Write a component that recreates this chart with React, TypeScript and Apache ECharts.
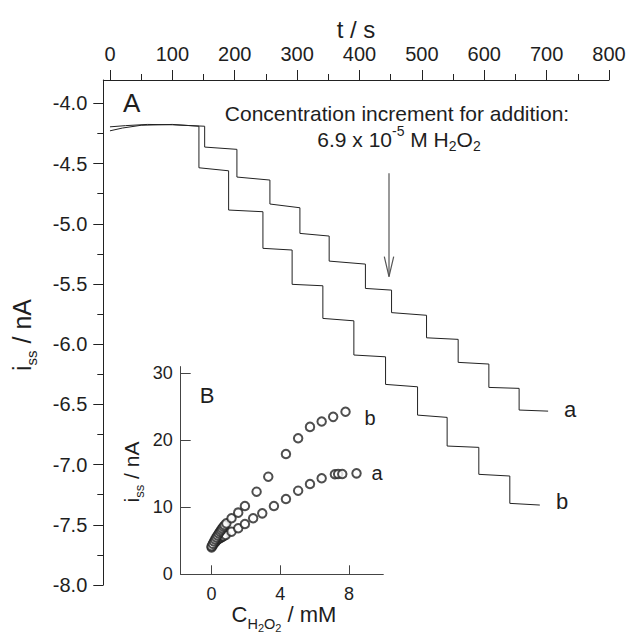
import React, { useEffect, useRef } from "react";
import * as echarts from "echarts";

const FONT = "'Liberation Sans', Arial, Helvetica, sans-serif";
const INK = "#1e1e1e";

// ---- axis ticks ----
const TIME_TICKS = [0, 100, 200, 300, 400, 500, 600, 700, 800];
const TIME_MINOR_TICKS = [50, 150, 250, 350, 450, 550, 650, 750];
const CURRENT_TICKS = [-8.0, -7.5, -7.0, -6.5, -6.0, -5.5, -5.0, -4.5, -4.0];
const CURRENT_MINOR_TICKS = [-7.75, -7.25, -6.75, -6.25, -5.75, -5.25, -4.75, -4.25];
const CONC_TICKS = [0, 4, 8];
const ISS_TICKS = [0, 10, 20, 30];

// ---- trace a (upper staircase) ----
const A_BASE_T = [0, 25, 60, 100, 151.8];
const A_BASE_V = [-4.195, -4.185, -4.175, -4.178, -4.19];
const A_STEP_T = [151.8, 203.5, 256.4, 304.5, 351.4, 409.5, 451.4, 507.5, 558.2, 607.4, 655.9, 702.4];
const A_LEVEL_START = [-4.363, -4.612, -4.836, -5.08, -5.31, -5.537, -5.738, -5.947, -6.151, -6.359, -6.547];
const A_LEVEL_END = [-4.382, -4.637, -4.867, -5.102, -5.335, -5.551, -5.76, -5.96, -6.165, -6.367, -6.556];

// ---- trace b (lower staircase) ----
const B_BASE_T = [0, 20, 50, 100, 142.6];
const B_BASE_V = [-4.228, -4.205, -4.182, -4.175, -4.19];
const B_STEP_T = [142.6, 190.2, 245.2, 292.0, 341.3, 391.0, 441.8, 493.1, 540.5, 591.3, 641.0, 689.1];
const B_LEVEL_START = [-4.535, -4.886, -5.204, -5.503, -5.786, -6.09, -6.334, -6.589, -6.846, -7.081, -7.322];
const B_LEVEL_END = [-4.56, -4.9, -5.218, -5.515, -5.806, -6.105, -6.354, -6.608, -6.857, -7.095, -7.336];

// ---- inset B ----
const INSET_B_CONC = [0, 0.069, 0.138, 0.207, 0.276, 0.345, 0.414, 0.483, 0.552, 0.621, 0.69, 0.759, 0.86, 1.16, 1.55, 1.94, 2.62, 3.3, 4.33, 5.04, 5.73, 6.41, 7.08, 7.8];
const INSET_B_ISS = [4.18, 4.55, 4.89, 5.21, 5.51, 5.8, 6.1, 6.34, 6.6, 6.85, 7.09, 7.33, 7.6, 8.36, 9.2, 10.19, 12.33, 14.57, 17.96, 20.3, 22.0, 22.8, 23.5, 24.27];
const INSET_A_CONC = [0, 0.069, 0.138, 0.207, 0.276, 0.345, 0.414, 0.483, 0.552, 0.621, 0.69, 0.82, 1.16, 1.55, 1.94, 2.42, 2.95, 3.63, 4.33, 5.04, 5.73, 6.41, 7.18, 7.37, 7.61, 8.44];
const INSET_A_ISS = [4.0, 4.3, 4.55, 4.8, 5.0, 5.15, 5.3, 5.4, 5.5, 5.6, 5.7, 5.87, 6.36, 6.87, 7.5, 8.36, 9.1, 10.19, 11.24, 12.48, 13.48, 14.33, 14.93, 14.97, 14.97, 15.07];

function buildTrace(baseT: number[], baseV: number[], stepT: number[], ls: number[], le: number[]) {
  const pts: number[][] = baseT.map((t, i) => [t, baseV[i]]);
  for (let i = 0; i < ls.length; i++) {
    pts.push([stepT[i], ls[i]]);
    pts.push([stepT[i + 1], le[i]]);
  }
  return pts;
}

type Part = [string, number, number]; // text, fontSize, offset of glyph centre from main centre
function richText(parts: Part[]) {
  const F = parts[0][1];
  const raw = parts.map(([, s, d]) => F / 2 + d - s / 2);
  const base = Math.max(0, -Math.min(...raw));
  const rich: Record<string, any> = {};
  let text = "";
  parts.forEach(([t, s], i) => {
    rich["p" + i] = {
      fontSize: s,
      fontFamily: FONT,
      fill: INK,
      verticalAlign: "top",
      padding: [raw[i] + base, 0, 0, 0],
    };
    text += `{p${i}|${t}}`;
  });
  return { text, rich, center: base + F / 2 };
}

function plainText(text: string, x: number, y: number, fontSize: number, extra: any = {}) {
  return {
    type: "text",
    x,
    y,
    silent: true,
    style: { text, fontSize, fontFamily: FONT, fill: INK, align: "center", verticalAlign: "middle" },
    ...extra,
  };
}

export default function App() {
  const ref = useRef<HTMLDivElement>(null);

  useEffect(() => {
    if (!ref.current) return;
    const chart = echarts.init(ref.current, null, { renderer: "svg" });

    const traceA = buildTrace(A_BASE_T, A_BASE_V, A_STEP_T, A_LEVEL_START, A_LEVEL_END);
    const traceB = buildTrace(B_BASE_T, B_BASE_V, B_STEP_T, B_LEVEL_START, B_LEVEL_END);
    const insetA = INSET_A_CONC.map((c, i) => [c, INSET_A_ISS[i]]);
    const insetB = INSET_B_CONC.map((c, i) => [c, INSET_B_ISS[i]]);

    const mainYTitle = richText([["i", 25, 0], ["ss", 15, 9], [" / nA", 25, 0]]);
    const insetYTitle = richText([["i", 21, 0], ["ss", 13, 8], [" / nA", 21, 0]]);
    const insetXTitle = richText([
      ["C", 22, 0],
      ["H", 14.5, 9],
      ["2", 11, 13],
      ["O", 14.5, 9],
      ["2", 11, 13],
      [" / mM", 22, 0],
    ]);
    const conc = richText([
      ["6.9 x 10", 21, 0],
      ["-5", 14, -8],
      [" M H", 21, 0],
      ["2", 14, 7],
      ["O", 21, 0],
      ["2", 14, 7],
    ]);

    const axisText = { color: INK, fontFamily: FONT };

    chart.setOption({
      animation: false,
      backgroundColor: "#ffffff",
      grid: [
        { left: 103.3, top: 80, width: 505.7, height: 505, containLabel: false, outerBoundsMode: "none" },
        { left: 180.7, top: 366.6, width: 202.6, height: 207.7, containLabel: false, outerBoundsMode: "none" },
      ],
      xAxis: [
        {
          gridIndex: 0,
          type: "value",
          position: "top",
          min: -10.7,
          max: 800,
          axisLine: { show: true, onZero: false, lineStyle: { color: "#222", width: 1 } },
          axisTick: { show: true, inside: false, length: 10, customValues: TIME_TICKS, lineStyle: { color: "#222", width: 1 } },
          axisLabel: { customValues: TIME_TICKS, margin: 16, fontSize: 20, ...axisText },
          splitLine: { show: false },
        },
        {
          gridIndex: 0,
          type: "value",
          position: "top",
          min: -10.7,
          max: 800,
          axisLine: { show: false, onZero: false },
          axisTick: { show: true, inside: false, length: 6, customValues: TIME_MINOR_TICKS, lineStyle: { color: "#222", width: 1 } },
          axisLabel: { show: false },
          splitLine: { show: false },
        },
        {
          gridIndex: 1,
          type: "value",
          position: "bottom",
          min: -1.8,
          max: 10,
          axisLine: { show: true, onZero: false, lineStyle: { color: "#444", width: 1 } },
          axisTick: { show: true, inside: true, length: 9, customValues: CONC_TICKS, lineStyle: { color: "#444", width: 1 } },
          axisLabel: { customValues: CONC_TICKS, margin: 11, fontSize: 18, ...axisText },
          splitLine: { show: false },
        },
      ],
      yAxis: [
        {
          gridIndex: 0,
          type: "value",
          position: "left",
          min: -8,
          max: -3.806,
          axisLine: { show: true, onZero: false, lineStyle: { color: "#222", width: 1 } },
          axisTick: { show: true, inside: false, length: 10, customValues: CURRENT_TICKS, lineStyle: { color: "#222", width: 1 } },
          axisLabel: {
            customValues: CURRENT_TICKS,
            margin: 16,
            fontSize: 20,
            formatter: (v: number) => v.toFixed(1),
            ...axisText,
          },
          splitLine: { show: false },
        },
        {
          gridIndex: 0,
          type: "value",
          position: "left",
          min: -8,
          max: -3.806,
          axisLine: { show: false, onZero: false },
          axisTick: { show: true, inside: false, length: 6, customValues: CURRENT_MINOR_TICKS, lineStyle: { color: "#222", width: 1 } },
          axisLabel: { show: false },
          splitLine: { show: false },
        },
        {
          gridIndex: 1,
          type: "value",
          position: "left",
          min: 0,
          max: 31,
          axisLine: { show: true, onZero: false, lineStyle: { color: "#444", width: 1 } },
          axisTick: { show: true, inside: true, length: 10, customValues: ISS_TICKS, lineStyle: { color: "#444", width: 1 } },
          axisLabel: { customValues: ISS_TICKS, margin: 8, fontSize: 18, ...axisText },
          splitLine: { show: false },
        },
      ],
      series: [
        {
          name: "a",
          type: "line",
          xAxisIndex: 0,
          yAxisIndex: 0,
          data: traceA,
          symbol: "none",
          lineStyle: { color: "#222", width: 1 },
          silent: true,
        },
        {
          name: "b",
          type: "line",
          xAxisIndex: 0,
          yAxisIndex: 0,
          data: traceB,
          symbol: "none",
          lineStyle: { color: "#222", width: 1 },
          silent: true,
        },
        {
          name: "inset a",
          type: "scatter",
          xAxisIndex: 2,
          yAxisIndex: 2,
          data: insetA,
          symbol: "emptyCircle",
          symbolSize: 8.5,
          itemStyle: { color: "#222", borderColor: "#222", borderWidth: 1 },
          silent: true,
        },
        {
          name: "inset b",
          type: "scatter",
          xAxisIndex: 2,
          yAxisIndex: 2,
          data: insetB,
          symbol: "emptyCircle",
          symbolSize: 8.5,
          itemStyle: { color: "#222", borderColor: "#222", borderWidth: 1 },
          silent: true,
        },
      ],
      graphic: [
        plainText("t / s", 356, 29, 24),
        plainText("A", 131.7, 103.3, 26),
        plainText("B", 207, 395, 22),
        plainText("Concentration increment for addition:", 397, 113, 21),
        {
          type: "text",
          x: 399,
          y: 139 - conc.center,
          silent: true,
          style: { text: conc.text, rich: conc.rich, align: "center", verticalAlign: "top", fontFamily: FONT, fill: INK },
        },
        {
          type: "line",
          silent: true,
          shape: { x1: 389, y1: 173.3, x2: 389, y2: 276.7 },
          style: { stroke: "#555", lineWidth: 1.2 },
        },
        {
          type: "polyline",
          silent: true,
          shape: { points: [[384.3, 256.7], [389, 276.7], [393.7, 256.7]] },
          style: { stroke: "#555", fill: null, lineWidth: 1.2 },
        },
        plainText("a", 570, 409, 22),
        plainText("b", 562, 501.5, 22),
        plainText("b", 370, 417.5, 20),
        plainText("a", 377, 472.5, 20),
        {
          type: "text",
          x: 22 - mainYTitle.center,
          y: 335,
          rotation: Math.PI / 2,
          silent: true,
          style: { text: mainYTitle.text, rich: mainYTitle.rich, align: "center", verticalAlign: "top", fontFamily: FONT, fill: INK },
        },
        {
          type: "text",
          x: 131 - insetYTitle.center,
          y: 472,
          rotation: Math.PI / 2,
          silent: true,
          style: { text: insetYTitle.text, rich: insetYTitle.rich, align: "center", verticalAlign: "top", fontFamily: FONT, fill: INK },
        },
        {
          type: "text",
          x: 284,
          y: 614.5 - insetXTitle.center,
          silent: true,
          style: { text: insetXTitle.text, rich: insetXTitle.rich, align: "center", verticalAlign: "top", fontFamily: FONT, fill: INK },
        },
      ],
    });

    return () => chart.dispose();
  }, []);

  return <div ref={ref} style={{ width: 630, height: 635, position: "absolute", left: 0, top: 0 }} />;
}
